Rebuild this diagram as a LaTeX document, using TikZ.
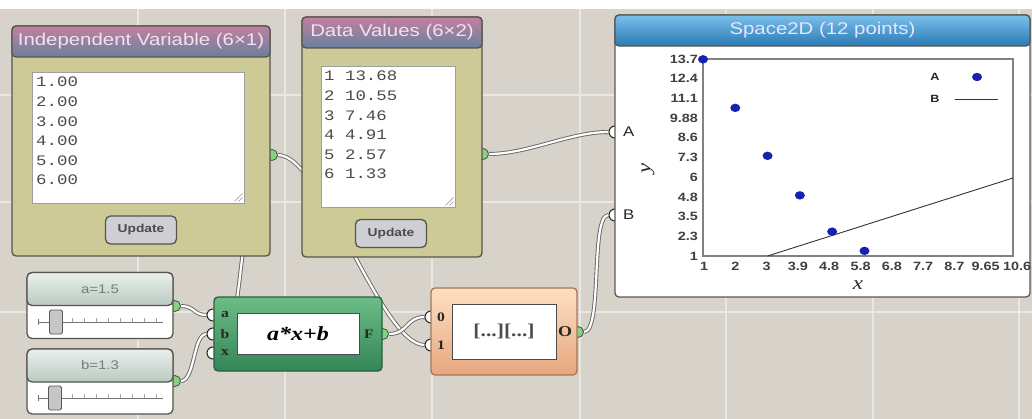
\documentclass[tikz,border=0pt]{standalone}
\usepackage{fontspec}
\setmainfont{Liberation Sans}
\newfontfamily\uisans{Liberation Sans}[FakeStretch=1.2]
\newfontfamily\uimono{Liberation Mono}[FakeStretch=1.2]
\newfontfamily\uiserif{Liberation Serif}[FakeStretch=1.2]
\usetikzlibrary{positioning}
\definecolor{canvas}{RGB}{215,210,202}
\definecolor{gridln}{RGB}{234,231,227}
\definecolor{olive}{RGB}{205,202,152}
\definecolor{frame}{RGB}{85,85,75}
\definecolor{hdtop}{RGB}{196,128,160}
\definecolor{hdbot}{RGB}{105,128,158}
\definecolor{hdtxt}{RGB}{238,228,238}
\definecolor{btn}{RGB}{206,207,212}
\definecolor{sktop}{RGB}{122,192,236}
\definecolor{skbot}{RGB}{42,122,180}
\definecolor{sltop}{RGB}{234,240,237}
\definecolor{slbot}{RGB}{186,202,194}
\definecolor{sltxt}{RGB}{120,126,122}
\definecolor{fxtop}{RGB}{108,188,134}
\definecolor{fxbot}{RGB}{52,134,88}
\definecolor{fxdrw}{RGB}{38,98,64}
\definecolor{jntop}{RGB}{252,224,194}
\definecolor{jnbot}{RGB}{232,166,126}
\definecolor{jndrw}{RGB}{168,118,88}
\definecolor{portg}{RGB}{130,212,128}
\definecolor{dotb}{RGB}{24,34,176}
\definecolor{axisg}{RGB}{130,130,130}
\pgfdeclarelayer{bg}
\pgfdeclarelayer{wire}
\pgfdeclarelayer{port}
\pgfsetlayers{bg,wire,port,main}
\tikzset{
  gridline/.style={draw=gridln, line width=2pt},
  % caixa de entrada de dados (corpo oliva + cabecalho)
  panel/.style={rectangle, rounded corners=4pt, draw=frame, line width=1.3pt, fill=olive, inner sep=0pt},
  hdr/.style={rectangle, rounded corners=4pt, draw=frame, line width=1.3pt, top color=hdtop, bottom color=hdbot,
              text=hdtxt, inner sep=0pt, font=\uisans\fontsize{17}{20}\selectfont},
  tarea/.style={rectangle, draw=gray!75, line width=0.8pt, fill=white, inner sep=0pt},
  vals/.style={anchor=north west, align=left, inner sep=0pt, text=black!70,
               font=\uimono\fontsize{14.5}{19.6}\selectfont},
  upd/.style={rectangle, rounded corners=5pt, draw=frame, line width=1.3pt, fill=btn, minimum width=71pt,
              minimum height=28pt, text=black!70, font=\uisans\bfseries\fontsize{11.5}{13}\selectfont},
  grip/.style={draw=gray!70, line width=0.7pt},
  % portas
  outp/.style={circle, draw=black!70, fill=portg, line width=0.8pt, minimum size=11pt, inner sep=0pt},
  inp/.style={circle, draw=black!85, fill=white, line width=1pt, minimum size=12pt, inner sep=0pt},
  plbl/.style={inner sep=0pt, text=black!85, font=\uiserif\bfseries\fontsize{13}{15}\selectfont},
  wire/.style={draw=black!60, double=white, double distance=2.2pt, line width=0.9pt},
  % sliders
  slbox/.style={rectangle, rounded corners=5pt, draw=frame, line width=1.3pt, fill=white, minimum width=146pt, inner sep=0pt},
  slhdr/.style={rectangle, rounded corners=5pt, draw=frame, line width=1.3pt, top color=sltop, bottom color=slbot,
                text=sltxt, minimum width=146pt, inner sep=0pt, font=\uisans\fontsize{12.5}{15}\selectfont},
  track/.style={draw=black!55, line width=0.8pt},
  sltick/.style={draw=black!35, line width=0.6pt},
  knob/.style={rectangle, rounded corners=1.5pt, draw=black!65, line width=0.8pt, fill=gray!45,
               minimum width=13pt, minimum height=24pt, inner sep=0pt},
  % blocos de funcao
  fxbox/.style={rectangle, rounded corners=4pt, draw=fxdrw, line width=1.3pt, top color=fxtop, bottom color=fxbot, inner sep=0pt},
  jnbox/.style={rectangle, rounded corners=4pt, draw=jndrw, line width=1.3pt, top color=jntop, bottom color=jnbot, inner sep=0pt},
  pane/.style={rectangle, draw=black!70, line width=1pt, fill=white, inner sep=0pt},
  % grafico
  axnum/.style={inner sep=0pt, text=black!75, font=\uisans\bfseries\fontsize{12}{14}\selectfont},
  axvar/.style={inner sep=0pt, text=black!85, font=\uiserif\itshape\fontsize{19}{22}\selectfont},
  leg/.style={inner sep=0pt, text=black!85, font=\uisans\bfseries\fontsize{10.5}{12}\selectfont}
}
\begin{document}
\begin{tikzpicture}[x=1pt, y=-1pt]
  \useasboundingbox (0,0) rectangle (1032,419);
  % --- fundo e grade ---
  \begin{pgfonlayer}{bg}
    \fill[white] (0,0) rectangle (1032,9);
    \fill[canvas] (0,9) rectangle (1032,419);
    \foreach \gx in {138,285,432,580,726,873,1019}
      \draw[gridline] (\gx,9) -- (\gx,419);
    \foreach \gy in {95,202,312}
      \draw[gridline] (0,\gy) -- (1032,\gy);
  \end{pgfonlayer}

  % --- variavel independente ---
  \node[panel, minimum width=258pt, minimum height=230pt] (ivbox) at (141,141) {};
  \node[hdr, minimum width=258pt, minimum height=31pt, anchor=north] (ivhd) at (ivbox.north) {Independent Variable (6×1)};
  \node[tarea, minimum width=212pt, minimum height=131pt] (ivtxt) at (138,137.5) {};
  \node[vals] (ivnums) at (36,77) {1.00\\2.00\\3.00\\4.00\\5.00\\6.00};
  \draw[grip] ([xshift=-10pt,yshift=2pt]ivtxt.south east) -- ([xshift=-2pt,yshift=10pt]ivtxt.south east);
  \draw[grip] ([xshift=-6pt,yshift=2pt]ivtxt.south east) -- ([xshift=-2pt,yshift=6pt]ivtxt.south east);
  \node[upd] (ivbtn) at (141,230) {Update};

  % --- valores de dados ---
  \node[panel, minimum width=180pt, minimum height=240pt] (dvbox) at (392,137) {};
  \node[hdr, minimum width=180pt, minimum height=31pt, anchor=north] (dvhd) at (dvbox.north) {Data Values (6×2)};
  \node[tarea, minimum width=134pt, minimum height=141pt] (dvtxt) at (388,136.5) {};
  \node[vals] (dvnums) at (324,71) {1 13.68\\2 10.55\\3 7.46\\4 4.91\\5 2.57\\6 1.33};
  \draw[grip] ([xshift=-10pt,yshift=2pt]dvtxt.south east) -- ([xshift=-2pt,yshift=10pt]dvtxt.south east);
  \draw[grip] ([xshift=-6pt,yshift=2pt]dvtxt.south east) -- ([xshift=-2pt,yshift=6pt]dvtxt.south east);
  \node[upd] (dvbtn) at (391,233.5) {Update};

  % --- Space2D ---
  \node[panel, fill=white, draw=gray!70!black, minimum width=415pt, minimum height=282pt] (s2d) at (822.5,156) {};
  \node[hdr, top color=sktop, bottom color=skbot, text=white!90!blue, minimum width=415pt, minimum height=31pt,
        anchor=north] (s2dhd) at (s2d.north) {Space2D (12 points)};
  \node[plbl, font=\uisans\fontsize{14}{16}\selectfont, anchor=west] (s2la) at (623,132) {A};
  \node[plbl, font=\uisans\fontsize{14}{16}\selectfont, anchor=west] (s2lb) at (623,215) {B};
  \draw[axisg, line width=1.6pt] (703,59) rectangle (1013,256);
  \foreach \v [count=\i from 0] in {13.7,12.4,11.1,9.88,8.6,7.3,6,4.8,3.5,2.3,1}
    \node[axnum, anchor=east] (yt\i) at (698,59+\i*19.7) {\v};
  \foreach \v [count=\i from 0] in {1,2,3,3.9,4.8,5.8,6.8,7.7,8.7,9.65,10.6}
    \node[axnum] (xt\i) at (704+\i*31.3,266) {\v};
  \node[axvar, rotate=90] (ylab) at (648,168) {y};
  \node[axvar] (xlab) at (858,285) {x};
  \node[leg] (lga) at (935,77) {A};
  \node[leg] (lgb) at (935,99) {B};
  \fill[dotb] (977,77) ellipse [x radius=5pt, y radius=4.2pt];
  \draw[black!80, line width=0.8pt] (955,99) -- (998,99);
  \begin{scope}[shift={(703,256)}, x=32.29pt, y=15.51pt]
    \draw[black!80, line width=0.9pt] (2,0) -- (9.6,5.03);
    \foreach \px/\py in {1/13.68,2/10.55,3/7.46,4/4.91,5/2.57,6/1.33}
      \fill[dotb] (\px-1,\py-1) ellipse [x radius=5pt, y radius=4.2pt];
  \end{scope}

  % --- sliders ---
  \node[slbox, minimum height=66pt] (sla) at (100,305.5) {};
  \node[slhdr, minimum height=33pt, anchor=north] (slahd) at (sla.north) {a=1.5};
  \draw[track] (38,322) -- (163,322);
  \draw[track] (38,319) -- (38,325);
  \foreach \tx in {72,84,...,156}
    \draw[sltick] (\tx,322) -- (\tx,318);
  \node[knob] (slaknob) at (56,322) {};

  \node[slbox, minimum height=65pt] (slb) at (100,381.5) {};
  \node[slhdr, minimum height=33pt, anchor=north] (slbhd) at (slb.north) {b=1.3};
  \draw[track] (38,398) -- (163,398);
  \draw[track] (38,395) -- (38,401);
  \foreach \tx in {72,84,...,156}
    \draw[sltick] (\tx,398) -- (\tx,394);
  \node[knob] (slbknob) at (55,398) {};

  % --- formula a*x+b ---
  \node[fxbox, minimum width=168pt, minimum height=74pt] (fx) at (298,334) {};
  \node[pane, minimum width=122pt, minimum height=41pt] (fxpane) at (298,333.5)
    {\uiserif\bfseries\itshape\fontsize{20}{24}\selectfont a*x+b};
  \node[plbl] (fxla) at (225,315) {a};
  \node[plbl] (fxlb) at (225,334) {b};
  \node[plbl] (fxlx) at (225,353) {x};
  \node[plbl] (fxlf) at (369,334) {F};

  % --- juncao de listas ---
  \node[jnbox, minimum width=146pt, minimum height=87pt] (jn) at (504,331.5) {};
  \node[pane, minimum width=104pt, minimum height=55pt] (jnpane) at (504,331.5)
    {\uiserif\bfseries\fontsize{18}{22}\selectfont\color{black!70}[...][...]};
  \node[plbl] (jnl0) at (441,317) {0};
  \node[plbl] (jnl1) at (441,345) {1};
  \node[plbl, font=\uiserif\bfseries\fontsize{15}{17}\selectfont] (jnlo) at (565,332) {O};

  % --- portas ---
  \begin{pgfonlayer}{port}
    \node[outp] (ivout) at (272,155) {};
    \node[outp] (dvout) at (483,154) {};
    \node[outp] (slaout) at (175,306) {};
    \node[outp] (slbout) at (175,381) {};
    \node[outp] (fxout) at (383,334) {};
    \node[outp] (jnout) at (578,332) {};
    \node[inp] (fa) at (213,315) {};
    \node[inp] (fb) at (213,334) {};
    \node[inp] (fxin) at (213,353) {};
    \node[inp] (jn0) at (431,317) {};
    \node[inp] (jn1) at (431,345) {};
    \node[inp] (s2a) at (615,132) {};
    \node[inp] (s2b) at (615,215) {};
  \end{pgfonlayer}

  % --- fios ---
  \begin{pgfonlayer}{wire}
    \draw[wire] (ivout) .. controls +(50,0) and +(-50,0) .. (jn1);
    \draw[wire] (ivout) .. controls +(-30,0) and +(30,0) .. (fxin);
    \draw[wire] (dvout) .. controls +(45,0) and +(-45,0) .. (s2a);
    \draw[wire] (slaout) .. controls +(20,0) and +(-20,0) .. (fa);
    \draw[wire] (slbout) .. controls +(20,0) and +(-20,0) .. (fb);
    \draw[wire] (fxout) .. controls +(25,0) and +(-25,0) .. (jn0);
    \draw[wire] (jnout) .. controls +(25,0) and +(-25,0) .. (s2b);
  \end{pgfonlayer}
\end{tikzpicture}
\end{document}
